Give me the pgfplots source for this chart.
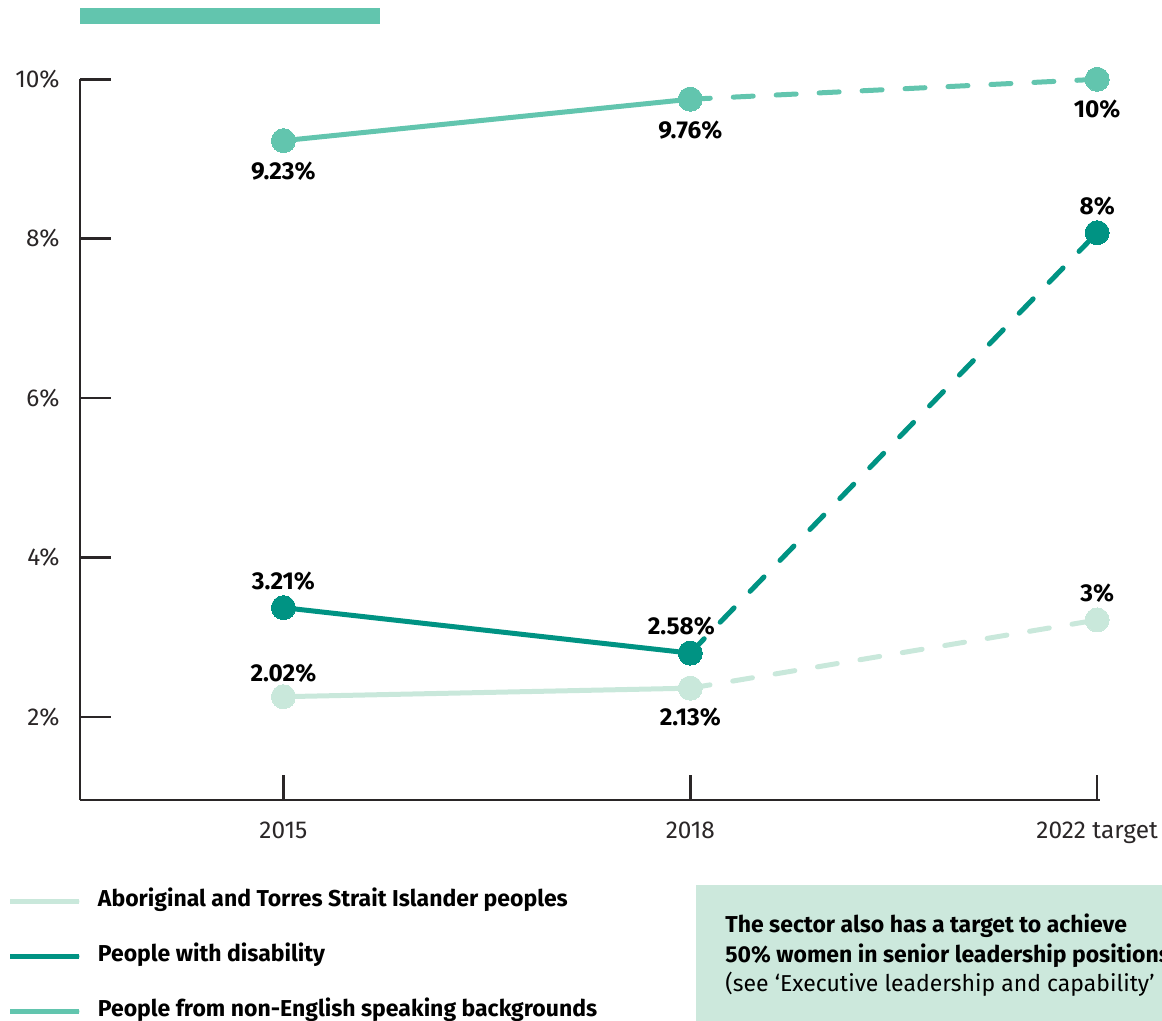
\documentclass[border=0pt]{standalone}
\usepackage{fontspec}
\setmainfont{Fira Sans}
\usepackage{pgfplots}
\pgfplotsset{compat=1.18}
\definecolor{nesb}{HTML}{62C5AE}
\definecolor{disc}{HTML}{009383}
\definecolor{aborc}{HTML}{C9E8DB}
\definecolor{boxc}{HTML}{CCE8DC}
\definecolor{axisc}{HTML}{2A2627}
\newcommand{\lab}{\bfseries\fontsize{12.2}{14}\selectfont}
\begin{document}
\begin{tikzpicture}
\begin{axis}[
  at={(40pt,110.5pt)}, anchor=south west,
  scale only axis, width=510pt, height=360.35pt,
  xmin=-0.5, xmax=2.007, ymin=0.957, ymax=10,
  axis x line*=bottom, axis y line*=left,
  axis line style={line width=1.3pt, color=axisc},
  xtick={0,1,2}, xticklabels={2015,2018,2022 target},
  ytick={2,4,6,8,10}, yticklabels={2\%,4\%,6\%,8\%,10\%},
  tick align=inside,
  tick style={line width=1.3pt, color=axisc},
  xtick style={/pgfplots/major tick length=12.5pt},
  ytick style={/pgfplots/major tick length=15.5pt},
  ticklabel style={font=\fontsize{12.2}{14}\selectfont, text=axisc},
  yticklabel style={inner sep=0pt, xshift=-10pt},
  xticklabel style={inner sep=0pt, yshift=-11pt},
  clip=false,
  legend style={draw=none, fill=none, inner sep=0pt, outer sep=0pt,
    at={(axis description cs:-0.0706,-0.2165)}, anchor=west,
    font=\bfseries\fontsize{11.5}{13}\selectfont,
    row sep=17pt, column sep=8pt,
    nodes={inner sep=0pt, text height=8pt, text depth=2.5pt}},
  legend cell align=left,
]
% Aboriginal
\addplot[aborc, line width=2.5pt, mark=*, mark size=6pt, mark options={solid, line width=0pt}, forget plot] coordinates {(0,2.253) (1,2.36)};
\addplot[aborc, line width=2.5pt, line cap=round, dash pattern=on 10pt off 11.5pt, mark=*, mark size=6pt, mark options={solid, line width=0pt}, forget plot] coordinates {(1,2.36) (2,3.216)};
% Disability
\addplot[disc, line width=2.5pt, mark=*, mark size=6pt, mark options={solid, line width=0pt}, forget plot] coordinates {(0,3.37) (1,2.80)};
\addplot[disc, line width=2.5pt, line cap=round, dash pattern=on 10pt off 11.5pt, mark=*, mark size=6pt, mark options={solid, line width=0pt}, forget plot] coordinates {(1,2.80) (2,8.075)};
% NESB
\addplot[nesb, line width=2.5pt, mark=*, mark size=6pt, mark options={solid, line width=0pt}, forget plot] coordinates {(0,9.23) (1,9.75)};
\addplot[nesb, line width=2.5pt, line cap=round, dash pattern=on 10pt off 11.5pt, mark=*, mark size=6pt, mark options={solid, line width=0pt}, forget plot] coordinates {(1,9.75) (2,10)};

\addlegendimage{aborc, line width=2.5pt, legend image code/.code={\draw[line cap=round] (1.25pt,0pt) -- (33.25pt,0pt); \path (0pt,0pt) -- (34.5pt,0pt);}}
\addlegendentry{Aboriginal and Torres Strait Islander peoples}
\addlegendimage{disc, line width=2.5pt, legend image code/.code={\draw[line cap=round] (1.25pt,0pt) -- (33.25pt,0pt); \path (0pt,0pt) -- (34.5pt,0pt);}}
\addlegendentry{People with disability}
\addlegendimage{nesb, line width=2.5pt, legend image code/.code={\draw[line cap=round] (1.25pt,0pt) -- (33.25pt,0pt); \path (0pt,0pt) -- (34.5pt,0pt);}}
\addlegendentry{People from non-English speaking backgrounds}

\node[font=\lab] at (axis cs:0,9.23) [yshift=-15.5pt] {9.23\%};
\node[font=\lab] at (axis cs:1,9.75) [yshift=-15.5pt] {9.76\%};
\node[font=\lab] at (axis cs:2,10) [yshift=-15pt] {10\%};
\node[font=\lab] at (axis cs:2,8.075) [yshift=13.5pt] {8\%};
\node[font=\lab] at (axis cs:0,3.37) [yshift=13pt] {3.21\%};
\node[font=\lab] at (axis cs:1,2.80) [yshift=13.5pt, xshift=-4.5pt] {2.58\%};
\node[font=\lab] at (axis cs:0,2.253) [yshift=12pt] {2.02\%};
\node[font=\lab] at (axis cs:1,2.36) [yshift=-14.5pt] {2.13\%};
\node[font=\lab] at (axis cs:2,3.216) [yshift=13.5pt] {3\%};
\end{axis}
\fill[nesb] (40pt,498.5pt) rectangle (190pt,506.5pt);
\fill[boxc] (348pt,-5pt) rectangle (600pt,68pt);
\node[anchor=base west, inner sep=0pt, font=\bfseries\fontsize{11.5}{13}\selectfont] at (362.5pt,44pt) {The sector also has a target to achieve};
\node[anchor=base west, inner sep=0pt, font=\bfseries\fontsize{11.5}{13}\selectfont] at (362.5pt,29.3pt) {50\% women in senior leadership positions};
\node[anchor=base west, inner sep=0pt, font=\fontsize{11.5}{13}\selectfont] at (362.5pt,14.7pt) {(see ‘Executive leadership and capability’ page)};
\pgfresetboundingbox
\path[use as bounding box] (0pt,0pt) rectangle (581pt,510.5pt);
\end{tikzpicture}
\end{document}
